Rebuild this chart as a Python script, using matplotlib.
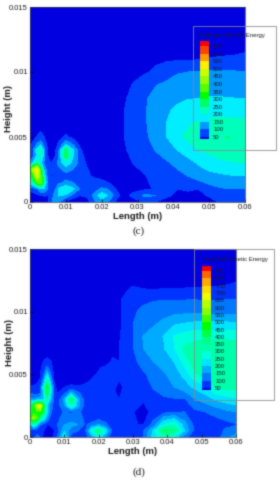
import numpy as np
import matplotlib
matplotlib.use('Agg')
import matplotlib.pyplot as plt
from matplotlib.patches import Rectangle

plt.rcParams['font.family'] = ['Liberation Sans', 'DejaVu Sans']

# Panel (c), turbulent kinetic energy. x and y in mm
c_labels = [50, 100, 150, 200, 250, 300, 350, 400, 450, 500, 550, 600, 650]
c_colors = ['#0000e0', '#0044ff', '#0099ff', '#00eeff', '#00ffbb', '#00ff66', '#00ff00',
            '#55ff00', '#99ff00', '#ccff00', '#ffee00', '#ff9900', '#ff4400', '#ff0000']

c_left_x = [0, 1, 2, 3, 4, 5, 6, 7, 8, 10, 12, 14, 16, 18, 20, 22, 24, 26]
c_left_y = [0, 0.5, 1, 1.5, 2, 2.5, 3, 3.5, 4, 4.5, 5, 5.5, 6]
c_left_z = [
    [5, 40, 50, 45, 10, 30, 90, 130, 100, 30, 20, 20, 30, 90, 120, 90, 40, 20],
    [30, 30, 40, 50, 55, 50, 80, 120, 155, 140, 80, 50, 60, 120, 185, 140, 75, 25],
    [60, 75, 100, 150, 140, 100, 65, 95, 160, 205, 160, 95, 65, 75, 110, 95, 48, 30],
    [180, 220, 360, 380, 210, 90, 52, 60, 85, 110, 100, 70, 55, 55, 58, 48, 12, 28],
    [260, 350, 480, 370, 170, 75, 48, 52, 65, 85, 80, 62, 52, 48, 40, 15, 10, 25],
    [300, 450, 530, 300, 130, 65, 50, 60, 85, 115, 100, 68, 52, 30, 10, 8, 10, 30],
    [100, 170, 250, 160, 90, 55, 48, 65, 115, 190, 135, 80, 40, 12, 5, 8, 12, 35],
    [65, 100, 170, 220, 110, 50, 35, 50, 100, 280, 150, 75, 25, 8, 5, 8, 14, 40],
    [70, 105, 175, 240, 110, 50, 30, 40, 90, 290, 155, 60, 12, 5, 5, 8, 16, 45],
    [40, 60, 100, 125, 70, 35, 15, 20, 60, 130, 90, 30, 8, 5, 5, 8, 18, 47],
    [20, 35, 55, 68, 50, 22, 8, 8, 30, 58, 40, 12, 5, 5, 5, 8, 18, 48],
    [10, 15, 30, 45, 30, 10, 5, 5, 10, 40, 15, 5, 5, 5, 5, 10, 20, 48],
    [5, 5, 5, 10, 5, 5, 5, 5, 5, 10, 5, 5, 5, 5, 5, 10, 20, 48],
]

c_right_x = [26, 29, 32, 35, 38, 41, 44, 47, 50, 53, 55, 57, 60]
c_right_y = [0, 0.5, 1, 2, 3, 4, 5, 6, 7, 8, 9, 10, 11, 12, 15]
c_right_z = [
    [20, 25, 60, 50, 30, 15, 10, 15, 30, 55, 58, 60, 60],
    [25, 70, 110, 100, 60, 40, 30, 35, 55, 65, 68, 68, 68],
    [30, 30, 40, 55, 55, 50, 60, 50, 80, 95, 98, 98, 98],
    [25, 30, 48, 60, 68, 85, 100, 125, 135, 140, 145, 148, 150],
    [35, 52, 65, 80, 92, 112, 130, 155, 175, 188, 192, 197, 200],
    [45, 60, 80, 102, 125, 150, 175, 200, 212, 225, 235, 230, 220],
    [48, 67, 90, 118, 148, 190, 210, 225, 235, 245, 252, 245, 235],
    [48, 70, 93, 125, 150, 180, 195, 207, 215, 222, 220, 218, 215],
    [48, 68, 95, 125, 145, 157, 172, 178, 180, 182, 182, 180, 178],
    [42, 65, 92, 118, 132, 143, 147, 149, 152, 152, 151, 150, 148],
    [30, 55, 72, 97, 112, 122, 128, 130, 132, 132, 130, 130, 128],
    [15, 35, 45, 57, 72, 95, 100, 102, 104, 105, 105, 104, 102],
    [5, 8, 18, 42, 44, 44, 45, 46, 52, 54, 55, 55, 58],
    [5, 5, 10, 15, 20, 20, 22, 25, 30, 32, 35, 38, 42],
    [3, 3, 3, 3, 3, 3, 3, 3, 3, 3, 3, 3, 3],
]

# Panel (d)
d_labels = [50, 100, 150, 200, 250, 300, 350, 400, 450, 500, 550, 600, 650, 700, 750, 800, 850]
d_colors = ['#0000e0', '#0033ff', '#0077ff', '#00aaff', '#00e5ff', '#00ffdd', '#00ffaa',
            '#00ff88', '#00ff44', '#00ff00', '#44ff00', '#88ff00', '#bbff00', '#eeff00',
            '#ffdd00', '#ffaa00', '#ff6600', '#ff0000']

d_left_x = [0, 1, 2, 3, 4, 5, 6, 7, 8, 10, 12, 14, 16, 18, 20, 22, 24, 26]
d_left_y = [0, 0.5, 1, 1.5, 2, 2.5, 3, 3.5, 4, 4.5, 5, 5.5, 6, 7, 8]
d_left_z = [
    [10, 60, 130, 90, 30, 15, 15, 60, 100, 250, 80, 40, 60, 150, 240, 140, 60, 50],
    [60, 70, 60, 60, 50, 30, 25, 45, 80, 190, 120, 100, 80, 270, 380, 230, 90, 55],
    [150, 300, 220, 110, 75, 50, 60, 75, 100, 150, 165, 150, 95, 110, 150, 110, 75, 75],
    [430, 590, 520, 320, 240, 150, 80, 65, 90, 115, 120, 130, 85, 80, 85, 80, 70, 68],
    [350, 480, 480, 500, 400, 210, 110, 75, 70, 105, 90, 110, 80, 70, 65, 62, 60, 65],
    [350, 450, 640, 690, 420, 200, 120, 85, 80, 140, 300, 170, 80, 70, 65, 60, 55, 55],
    [170, 150, 170, 170, 200, 320, 180, 85, 65, 170, 420, 170, 80, 62, 60, 62, 52, 50],
    [100, 90, 80, 100, 220, 430, 220, 80, 48, 85, 180, 110, 65, 55, 58, 60, 52, 48],
    [60, 55, 60, 80, 240, 460, 230, 70, 30, 48, 60, 52, 58, 58, 60, 62, 55, 45],
    [20, 30, 40, 55, 150, 330, 160, 48, 15, 18, 30, 35, 42, 52, 58, 62, 60, 50],
    [5, 8, 20, 45, 100, 210, 105, 40, 12, 8, 8, 10, 15, 45, 53, 60, 62, 55],
    [5, 5, 10, 40, 75, 115, 75, 30, 10, 5, 5, 5, 8, 20, 48, 58, 60, 58],
    [5, 5, 5, 30, 55, 70, 55, 25, 8, 5, 5, 5, 5, 5, 10, 35, 55, 50],
    [5, 5, 5, 5, 5, 5, 5, 5, 5, 5, 5, 5, 5, 5, 5, 15, 42, 50],
    [5, 5, 5, 5, 5, 5, 5, 5, 5, 5, 5, 5, 5, 5, 5, 5, 10, 46],
]

d_right_x = [26, 28, 30, 33, 36, 39, 42, 45, 48, 51, 54, 57, 60]
d_right_y = [0, 0.5, 1, 2, 3, 4, 5, 6, 7, 8, 9, 10, 11, 12, 13, 15]
d_right_z = [
    [50, 55, 70, 95, 230, 290, 230, 120, 60, 55, 65, 130, 170],
    [55, 60, 60, 95, 210, 410, 380, 200, 80, 62, 70, 110, 130],
    [75, 70, 52, 48, 120, 250, 290, 170, 85, 70, 75, 85, 95],
    [65, 60, 52, 30, 65, 85, 95, 100, 88, 100, 115, 135, 150],
    [50, 55, 55, 55, 80, 90, 95, 95, 145, 170, 205, 225, 240],
    [45, 55, 60, 75, 105, 130, 150, 178, 210, 245, 305, 320, 320],
    [55, 62, 72, 92, 120, 142, 175, 215, 290, 325, 335, 335, 330],
    [50, 65, 85, 120, 150, 172, 200, 270, 325, 335, 345, 340, 335],
    [50, 70, 96, 148, 175, 195, 245, 310, 325, 335, 340, 335, 330],
    [46, 72, 95, 153, 170, 203, 255, 275, 285, 290, 290, 290, 285],
    [40, 68, 100, 125, 145, 165, 195, 205, 215, 215, 215, 215, 210],
    [42, 65, 90, 115, 122, 130, 135, 138, 138, 135, 135, 135, 135],
    [45, 60, 70, 85, 95, 97, 97, 97, 98, 95, 95, 98, 100],
    [20, 42, 51, 42, 38, 40, 42, 44, 47, 48, 50, 52, 55],
    [10, 15, 20, 20, 20, 20, 20, 25, 25, 30, 30, 35, 40],
    [5, 5, 5, 5, 5, 5, 5, 5, 5, 5, 5, 5, 5],
]

x_ticks = [0, 0.01, 0.02, 0.03, 0.04, 0.05, 0.06]
x_ticklabels = ['0', '0.01', '0.02', '0.03', '0.04', '0.05', '0.06']
y_ticks = [0, 0.005, 0.01, 0.015]
y_ticklabels = ['0', '0.005', '0.01', '0.015']

W, H = 280, 480
TEXT = '#1a1a1a'
KERNEL = np.array([0.02, 0.16, 0.64, 0.16, 0.02])  # the reference is a soft scan


def soften(image, dpi):
    # blur the whole drawn figure a little, along each image axis
    out = image.astype(float)
    for axis in (0, 1):
        out = sum(w * np.roll(out, k, axis=axis) for k, w in zip(range(-2, 3), KERNEL))
    return out, 0, 0


def px_axes(fig, left, top, right, bottom):
    return fig.add_axes([left / W, 1 - bottom / H, (right - left) / W, (bottom - top) / H])


def draw_field(ax, labels, colors, patches, ylabel_xy):
    levels = [0] + labels + [2000]
    ax.set_facecolor(colors[0])
    for x, y, z in patches:
        ax.contourf(np.array(x) / 1000, np.array(y) / 1000, np.array(z), levels=levels, colors=colors)
    ax.set_xlim(0, 0.06)
    ax.set_ylim(0, 0.015)
    ax.set_xticks(x_ticks)
    ax.set_xticklabels(x_ticklabels)
    ax.set_yticks(y_ticks)
    ax.set_yticklabels(y_ticklabels)
    ax.tick_params(direction='in', length=2.5, width=0.5, labelsize=5.5, pad=1.5, labelcolor=TEXT)
    for s in ax.spines.values():
        s.set_linewidth(0.5)
        s.set_color('#333333')
    ax.set_xlabel('Length (m)', fontsize=6.8, fontweight='bold', color=TEXT, labelpad=1)
    ax.set_ylabel('Height (m)', fontsize=6.8, fontweight='bold', color=TEXT, labelpad=1)
    ax.yaxis.set_label_coords(*ylabel_xy)


def draw_legend(fig, labels, colors, box, bar, first_py, last_py, title_xy):
    # box and bar are in pixels: left, top, right, bottom
    fig.add_artist(Rectangle((box[0] / W, 1 - box[3] / H), (box[2] - box[0]) / W, (box[3] - box[1]) / H,
                             transform=fig.transFigure, fill=False, ec='#8a8a8a', lw=0.6))
    fig.text(title_xy[0] / W, 1 - title_xy[1] / H, 'Turbulent Kinetic Energy', fontsize=4.3,
             color=TEXT, va='center', ha='left')
    cax = px_axes(fig, *bar)
    step = (first_py - last_py) / (len(labels) - 1)
    idx = np.arange(len(colors))
    cax.bar(np.zeros(len(colors)), np.ones(len(colors)), width=1, bottom=idx - 1, color=colors)
    cax.set_xlim(-0.5, 0.5)
    cax.set_ylim(-(bar[3] - first_py) / step, (first_py - bar[1]) / step)
    cax.set_xticks([])
    cax.yaxis.tick_right()
    cax.set_yticks(np.arange(len(labels)))
    cax.set_yticklabels([str(v) for v in labels])
    cax.tick_params(length=0, labelsize=4.3, pad=3, labelcolor=TEXT)
    for s in cax.spines.values():
        s.set_visible(False)


fig = plt.figure(figsize=(W / 100, H / 100), dpi=100)

ax_c = px_axes(fig, 30, 7, 245, 202)
draw_field(ax_c, c_labels, c_colors, [(c_left_x, c_left_y, c_left_z), (c_right_x, c_right_y, c_right_z)], (-0.08, 0.48))
ax_d = px_axes(fig, 30, 249, 236, 437)
draw_field(ax_d, d_labels, d_colors, [(d_left_x, d_left_y, d_left_z), (d_right_x, d_right_y, d_right_z)], (-0.08, 0.5))

draw_legend(fig, c_labels, c_colors, (193, 26, 276, 150), (200, 41, 209, 139), 137, 46, (199, 35))
draw_legend(fig, d_labels, d_colors, (194, 249, 274, 400), (202, 266, 211, 390), 388, 271, (202, 260))

fig.text(139 / W, 1 - 231 / H, '(c)', fontsize=8, family='Liberation Serif', color=TEXT, ha='center', va='center')
fig.text(139 / W, 1 - 472 / H, '(d)', fontsize=8, family='Liberation Serif', color=TEXT, ha='center', va='center')

fig.set_agg_filter(soften)
plt.savefig('out.png', dpi=100)
